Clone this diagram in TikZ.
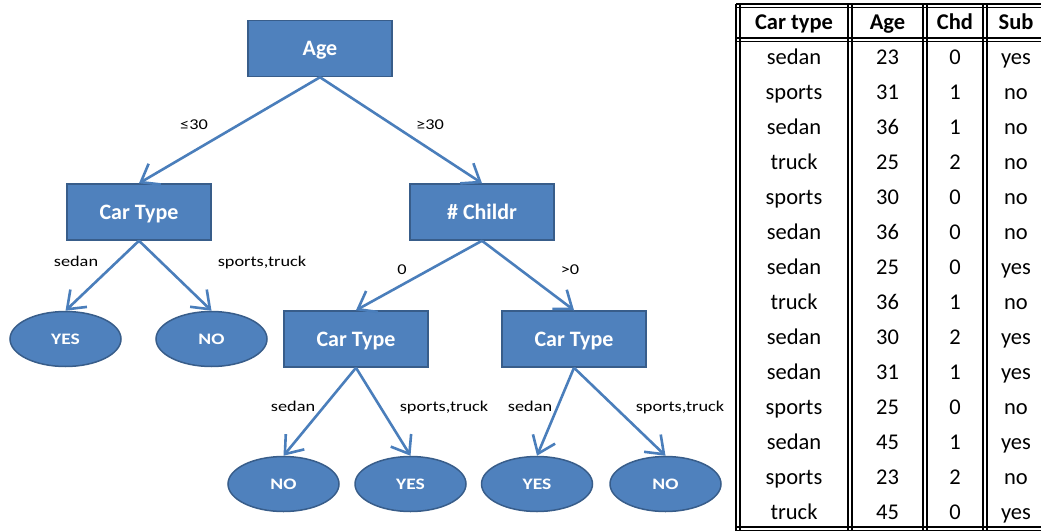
\documentclass[tikz,border=0pt]{standalone}
\usepackage{fontspec}
\setmainfont{Carlito}
\newfontfamily\lblfont[FakeStretch=1.22]{Carlito}
\usetikzlibrary{shapes.geometric,arrows.meta}
\definecolor{nodefill}{HTML}{4F81BD}
\definecolor{nodeedge}{HTML}{385D8A}
\definecolor{linkcol}{HTML}{4A7EBB}
\tikzset{
  boxnode/.style={draw=nodeedge, fill=nodefill, line width=1.5pt, minimum width=144pt, minimum height=56pt, inner sep=0pt, text=white, font=\fontsize{22}{24}\selectfont\bfseries, text height=15pt, text depth=1pt},
  leafnode/.style={ellipse, draw=nodeedge, fill=nodefill, line width=1.5pt, minimum width=111pt, minimum height=55pt, inner sep=0pt, text=white, font=\lblfont\fontsize{16}{18}\selectfont\bfseries, text height=11pt, text depth=1pt},
  link/.style={draw=linkcol, line width=2.6pt, -{Straight Barb[length=16pt,width=24pt]}},
  lbl/.style={inner sep=0pt, font=\lblfont\fontsize{15}{18}\selectfont, text height=8pt, text depth=1pt},
  cell/.style={inner sep=0pt, font=\fontsize{22.5}{24}\selectfont, text height=15pt, text depth=2pt},
  headcell/.style={inner sep=0pt, font=\fontsize{22.5}{24}\selectfont\bfseries, text height=15pt, text depth=1pt},
  tline/.style={line width=1.3pt, black}
}
\begin{document}
\begin{tikzpicture}[x=1pt,y=-1pt]
\useasboundingbox (0,0) rectangle (1041,530);
\begin{scope}
\clip (0,0) rectangle (1041,530);
% tree nodes
\node[boxnode] (age) at (320,48.5) {Age};
\node[boxnode] (ct1) at (139,212) {Car Type};
\node[boxnode] (ch) at (482,212) {\# Childr};
\node[boxnode] (ct2) at (356,339) {Car Type};
\node[boxnode] (ct3) at (574,339) {Car Type};
\node[leafnode] (y1) at (65.5,339) {YES};
\node[leafnode] (n1) at (211.5,339) {NO};
\node[leafnode] (n2) at (283.5,484) {NO};
\node[leafnode] (y2) at (410.5,484) {YES};
\node[leafnode] (y3) at (537,484) {YES};
\node[leafnode] (n3) at (665.5,484) {NO};
% connectors
\draw[link] (age.south) -- (ct1.north);
\draw[link] (age.south) -- (ch.north);
\draw[link] (ct1.south) -- (y1.north);
\draw[link] (ct1.south) -- (n1.north);
\draw[link] (ch.south) -- (ct2.north);
\draw[link] (ch.south) -- (ct3.north);
\draw[link] (ct2.south) -- (n2.north);
\draw[link] (ct2.south) -- (y2.north);
\draw[link] (ct3.south) -- (y3.north);
\draw[link] (ct3.south) -- (n3.north);
% labels
\node[lbl] (l1) at (194,126) {≤30};
\node[lbl] (l2) at (430,126) {≥30};
\node[lbl] (l3) at (76,263) {sedan};
\node[lbl] (l4) at (262,263) {sports,truck};
\node[lbl] (l5) at (402,271) {0};
\node[lbl] (l6) at (570,271) {>0};
\node[lbl] (l7) at (293,408) {sedan};
\node[lbl] (l8) at (444,408) {sports,truck};
\node[lbl] (l9) at (530,408) {sedan};
\node[lbl] (l10) at (680,408) {sports,truck};
% table lines
\foreach \x in {736,740,848,852,923,927,983,987,1045,1049}
  \draw[tline] (\x,4) -- (\x,531);
\foreach \y in {4,7.5,38,41.5,527,530.5}
  \draw[tline] (736,\y) -- (1049,\y);
% table header
\node[headcell] (h1) at (794,22) {Car type};
\node[headcell] (h2) at (887.5,22) {Age};
\node[headcell] (h3) at (955,22) {Chd};
\node[headcell] (h4) at (1016,22) {Sub};
% table rows
\foreach \ct/\ag/\cd/\sb [count=\i from 0] in {
  sedan/23/0/yes, sports/31/1/no, sedan/36/1/no, truck/25/2/no,
  sports/30/0/no, sedan/36/0/no, sedan/25/0/yes, truck/36/1/no,
  sedan/30/2/yes, sedan/31/1/yes, sports/25/0/no, sedan/45/1/yes,
  sports/23/2/no, truck/45/0/yes} {
  \pgfmathsetmacro{\yy}{58+35*\i}
  \node[cell] (c\i a) at (794,\yy) {\ct};
  \node[cell] (c\i b) at (887.5,\yy) {\ag};
  \node[cell] (c\i c) at (955,\yy) {\cd};
  \node[cell] (c\i d) at (1016,\yy) {\sb};
}
\end{scope}
\end{tikzpicture}
\end{document}
